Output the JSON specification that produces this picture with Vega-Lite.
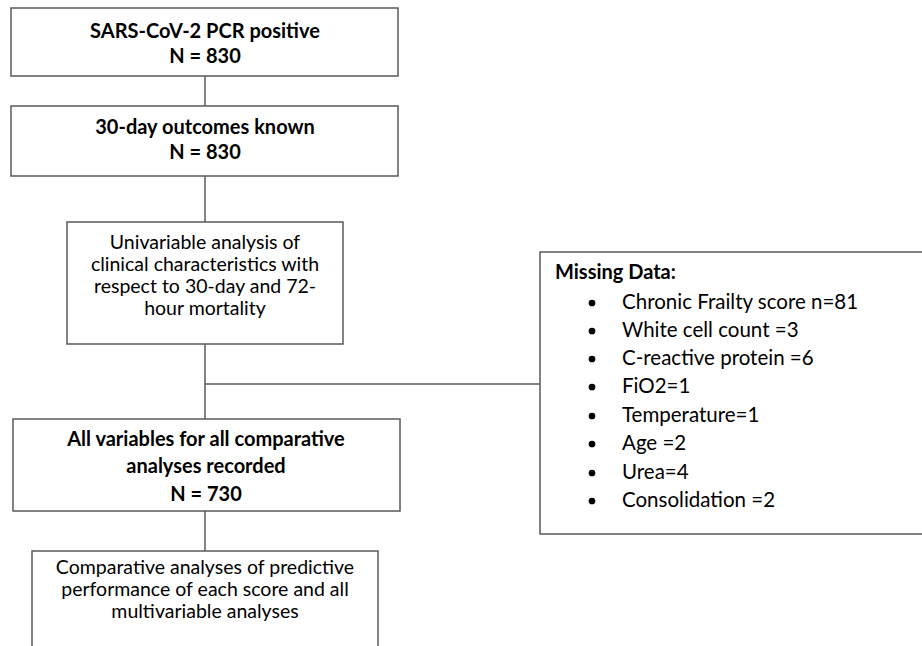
{
  "$schema": "https://vega.github.io/schema/vega-lite/v6.json",
  "width": 922,
  "height": 646,
  "padding": 0,
  "autosize": {"type": "fit", "contains": "padding"},
  "background": "white",
  "config": {"view": {"stroke": null}},
  "datasets": {
    "boxes": [
      {"box": "positive", "x": 11, "x2": 398, "y": 8, "y2": 76},
      {"box": "outcomes", "x": 11, "x2": 398, "y": 106, "y2": 176},
      {"box": "univariable", "x": 67, "x2": 343, "y": 222, "y2": 344},
      {"box": "recorded", "x": 13, "x2": 400, "y": 419, "y2": 511},
      {"box": "comparative", "x": 32, "x2": 378, "y": 551, "y2": 660},
      {"box": "missing", "x": 540, "x2": 930, "y": 252, "y2": 534}
    ],
    "links": [
      {"x": 205, "x2": 205, "y": 76, "y2": 106},
      {"x": 205, "x2": 205, "y": 176, "y2": 222},
      {"x": 205, "x2": 205, "y": 344, "y2": 419},
      {"x": 205, "x2": 205, "y": 511, "y2": 551},
      {"x": 205, "x2": 540, "y": 384, "y2": 384}
    ],
    "labels": [
      {"label": "SARS-CoV-2 PCR positive", "x": 205, "y": 32, "weight": "bold", "align": "center"},
      {"label": "N = 830", "x": 205, "y": 57, "weight": "bold", "align": "center"},
      {"label": "30-day outcomes known", "x": 205, "y": 128, "weight": "bold", "align": "center"},
      {"label": "N = 830", "x": 205, "y": 153, "weight": "bold", "align": "center"},
      {"label": "Univariable analysis of", "x": 205, "y": 243, "weight": "normal", "align": "center"},
      {"label": "clinical characteristics with", "x": 205, "y": 265, "weight": "normal", "align": "center"},
      {"label": "respect to 30-day and 72-", "x": 205, "y": 287, "weight": "normal", "align": "center"},
      {"label": "hour mortality", "x": 205, "y": 309, "weight": "normal", "align": "center"},
      {"label": "All variables for all comparative", "x": 206, "y": 440, "weight": "bold", "align": "center"},
      {"label": "analyses recorded", "x": 206, "y": 467, "weight": "bold", "align": "center"},
      {"label": "N = 730", "x": 206, "y": 495, "weight": "bold", "align": "center"},
      {"label": "Comparative analyses of predictive", "x": 205, "y": 568, "weight": "normal", "align": "center"},
      {"label": "performance of each score and all", "x": 205, "y": 590, "weight": "normal", "align": "center"},
      {"label": "multivariable analyses", "x": 205, "y": 612, "weight": "normal", "align": "center"},
      {"label": "Missing Data:", "x": 555, "y": 273, "weight": "bold", "align": "left"}
    ],
    "missing": [
      {"item": "Chronic Frailty score n=81", "bx": 592, "x": 622, "y": 303},
      {"item": "White cell count =3", "bx": 592, "x": 622, "y": 331},
      {"item": "C-reactive protein =6", "bx": 592, "x": 622, "y": 359},
      {"item": "FiO2=1", "bx": 592, "x": 622, "y": 387},
      {"item": "Temperature=1", "bx": 592, "x": 622, "y": 416},
      {"item": "Age =2", "bx": 592, "x": 622, "y": 444},
      {"item": "Urea=4", "bx": 592, "x": 622, "y": 473},
      {"item": "Consolidation =2", "bx": 592, "x": 622, "y": 501}
    ]
  },
  "layer": [
    {
      "data": {"name": "links"},
      "mark": {"type": "rule", "color": "#5a5a5a", "strokeWidth": 1.5},
      "encoding": {
        "x": {"field": "x", "type": "quantitative", "scale": {"domain": [0, 922], "nice": false, "zero": false}, "axis": null},
        "x2": {"field": "x2"},
        "y": {"field": "y", "type": "quantitative", "scale": {"domain": [0, 646], "nice": false, "zero": false, "reverse": true}, "axis": null},
        "y2": {"field": "y2"}
      }
    },
    {
      "data": {"name": "boxes"},
      "mark": {"type": "rect", "fill": "white", "stroke": "#5a5a5a", "strokeWidth": 1.5, "clip": true},
      "encoding": {
        "x": {"field": "x", "type": "quantitative"},
        "x2": {"field": "x2"},
        "y": {"field": "y", "type": "quantitative"},
        "y2": {"field": "y2"}
      }
    },
    {
      "data": {"name": "labels"},
      "transform": [{"filter": "datum.weight == 'bold' && datum.align == 'center'"}],
      "mark": {"type": "text", "font": "Lato", "fontSize": 20, "fontWeight": "bold", "align": "center", "baseline": "middle", "color": "black"},
      "encoding": {
        "x": {"field": "x", "type": "quantitative"},
        "y": {"field": "y", "type": "quantitative"},
        "text": {"field": "label"}
      }
    },
    {
      "data": {"name": "labels"},
      "transform": [{"filter": "datum.weight == 'normal' && datum.align == 'center'"}],
      "mark": {"type": "text", "font": "Lato", "fontSize": 19.5, "align": "center", "baseline": "middle", "color": "black"},
      "encoding": {
        "x": {"field": "x", "type": "quantitative"},
        "y": {"field": "y", "type": "quantitative"},
        "text": {"field": "label"}
      }
    },
    {
      "data": {"name": "labels"},
      "transform": [{"filter": "datum.align == 'left'"}],
      "mark": {"type": "text", "font": "Lato", "fontSize": 20, "fontWeight": "bold", "align": "left", "baseline": "middle", "color": "black"},
      "encoding": {
        "x": {"field": "x", "type": "quantitative"},
        "y": {"field": "y", "type": "quantitative"},
        "text": {"field": "label"}
      }
    },
    {
      "data": {"name": "missing"},
      "mark": {"type": "point", "shape": "circle", "filled": true, "size": 45, "color": "black", "opacity": 1},
      "encoding": {
        "x": {"field": "bx", "type": "quantitative"},
        "y": {"field": "y", "type": "quantitative"}
      }
    },
    {
      "data": {"name": "missing"},
      "mark": {"type": "text", "font": "Lato", "fontSize": 20.5, "align": "left", "baseline": "middle", "color": "black"},
      "encoding": {
        "x": {"field": "x", "type": "quantitative"},
        "y": {"field": "y", "type": "quantitative"},
        "text": {"field": "item"}
      }
    }
  ]
}
